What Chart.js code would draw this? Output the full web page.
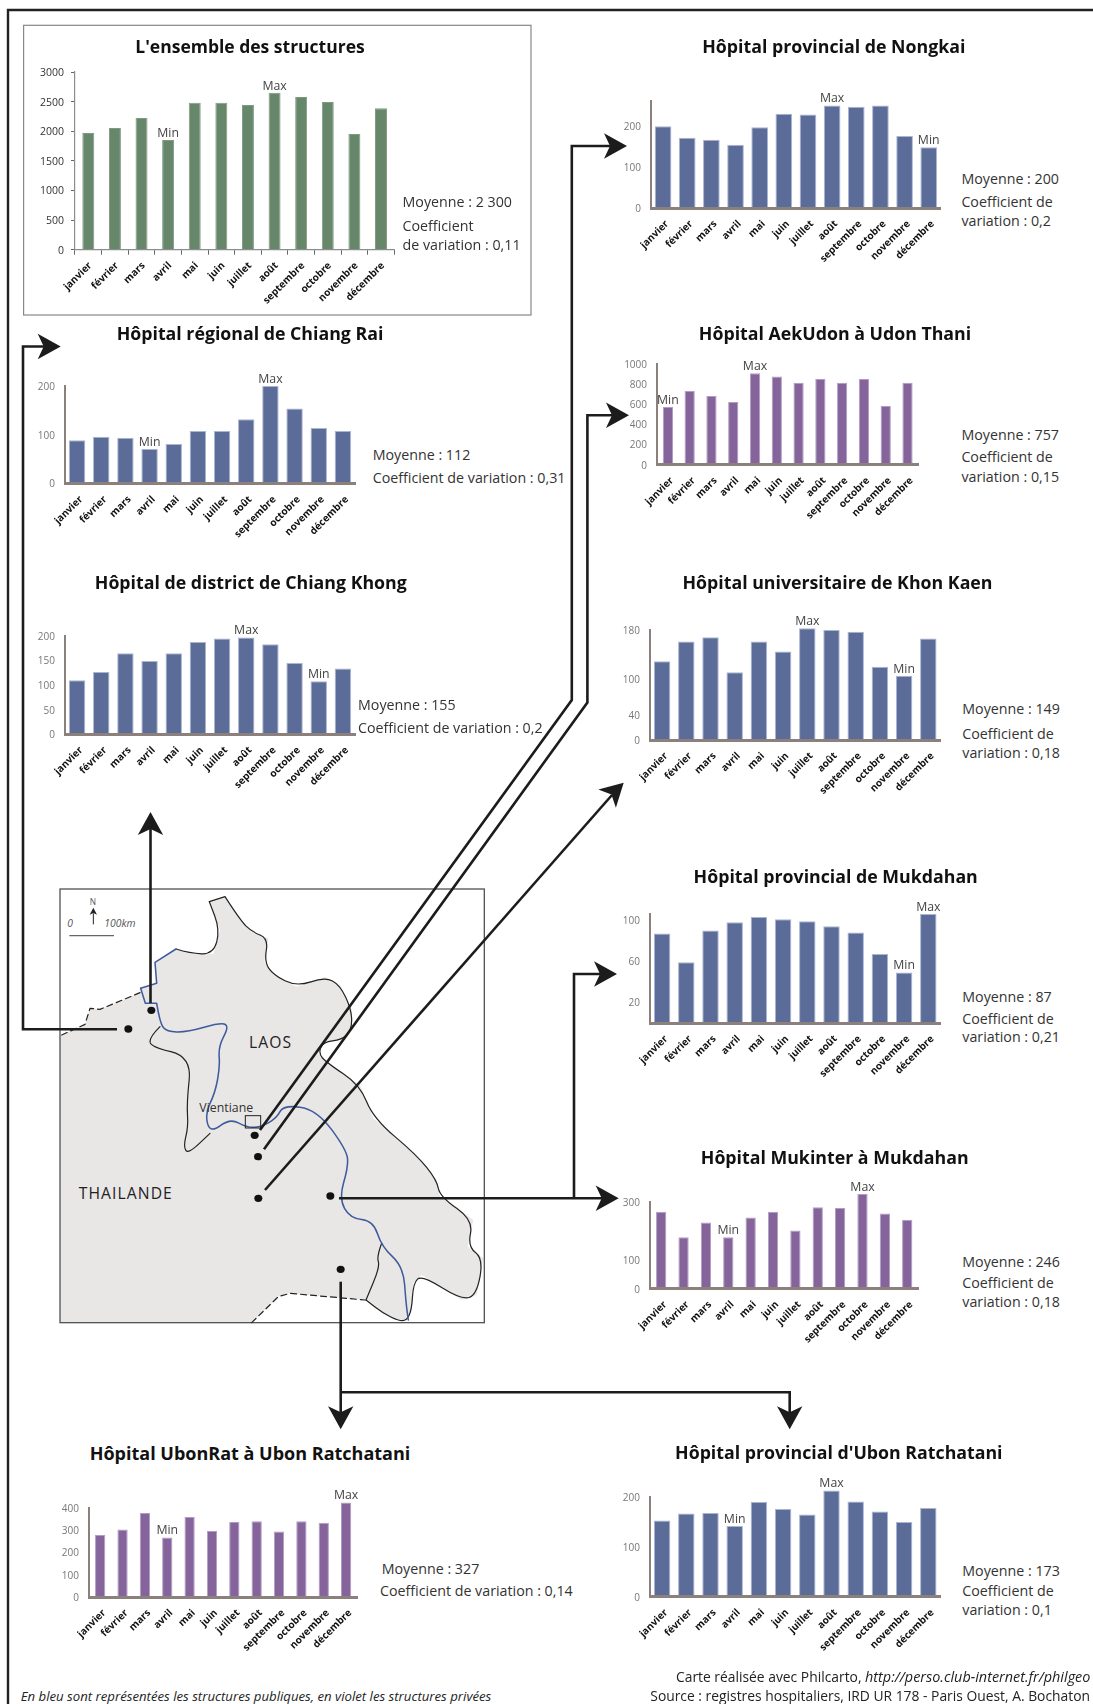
<!DOCTYPE html>
<html lang="fr"><head><meta charset="utf-8">
<title>Hôpitaux</title>
<script src="https://cdn.jsdelivr.net/npm/chart.js@4"></script>
<style>
html,body{margin:0;padding:0;background:#fff;width:1093px;height:1704px;overflow:hidden}
#page{position:relative;width:1093px;height:1704px;overflow:hidden;font-family:"Open Sans",sans-serif;color:#2c2c2c}
#page svg{position:absolute;left:0;top:0}
.cv{position:absolute}
.t{position:absolute;white-space:nowrap;line-height:1}
.title{font-weight:700;font-size:17.75px;color:#111;transform:translate(-50%,-50%)}
.s{font-size:14.25px;transform:translateY(-50%);color:#333}
.f{font-size:13.85px;transform:translateY(-50%);color:#222}
</style></head><body>
<div id="page"><svg id="ov" width="1093" height="1704" xmlns="http://www.w3.org/2000/svg"></svg></div>
<script>
const months=["janvier","février","mars","avril","mai","juin","juillet","août","septembre","octobre","novembre","décembre"];

const ensembleValues=[1970,2055,2223,1852,2482,2482,2443,2651,2578,2493,1953,2386];
const chiangRaiValues=[89,96,94,71,81,108,108,132,200,154,114,108];
const chiangKhongValues=[110,127,165,149,165,188,195,197,183,145,108,134];
const nongkaiValues=[200,172,167,155,198,231,229,251,248,251,176,149];
const aekUdonValues=[573,732,682,622,907,877,815,851,815,851,583,815];
const khonKaenValues=[129,161,168,111,161,145,183,180,177,120,105,166];
const mukdahanValues=[87,59,90,98,103,101,99,94,88,67,49,106];
const mukinterValues=[266,178,229,178,246,266,201,282,279,328,260,239];
const ubonRatValues=[279,303,378,267,360,297,337,340,294,340,334,425];
const ubonProvValues=[153,167,168,142,190,176,165,213,191,171,150,178];

const ensembleTicks=[0,500,1000,1500,2000,2500,3000];
const chiangRaiTicks=[0,100,200];
const chiangKhongTicks=[0,50,100,150,200];
const nongkaiTicks=[0,100,200];
const aekUdonTicks=[0,200,400,600,800,1000];
const khonKaenTicks=[0,40,100,180];
const mukdahanTicks=[20,60,100];
const mukinterTicks=[0,100,300];
const ubonRatTicks=[0,100,200,300,400];
const ubonProvTicks=[0,100,200];

const BLUE="#5b6c98",VIOLET="#85639b",GREEN="#66876a";
const BLUEB="#aab5d2",VIOLETB="#b39cc4",GREENB="#7f9a84";

const panels=[
 {title:"L'ensemble des structures",fs:17.5,tx:250,ty:46.7,values:ensembleValues,ticks:ensembleTicks,yMax:3000,l:74.6,r:393.9,top:72.3,bot:250,c:GREEN,b:GREENB,bp:.45,min:3,max:7,green:true,
  stats:[["Moyenne : 2 300",402.5,201.7],["Coefficient",402.5,226],["de variation : 0,11",402.5,245]]},
 {title:"Hôpital régional de Chiang Rai",tx:250,ty:334,values:chiangRaiValues,ticks:chiangRaiTicks,yMax:200,l:65,r:355,top:385.7,bot:483.3,c:BLUE,b:BLUEB,bp:.68,min:3,max:8,
  stats:[["Moyenne : 112",372.7,455],["Coefficient de variation : 0,31",372.7,478]]},
 {title:"Hôpital de district de Chiang Khong",tx:250.8,ty:583,values:chiangKhongValues,ticks:chiangKhongTicks,yMax:200,l:65,r:355,top:636,bot:734.3,c:BLUE,b:BLUEB,bp:.68,min:10,max:7,
  stats:[["Moyenne : 155",358,705],["Coefficient de variation : 0,2",358,727.7]]},
 {title:"Hôpital provincial de Nongkai",tx:833.8,ty:46.7,values:nongkaiValues,ticks:nongkaiTicks,yMax:262,l:651.2,r:941,top:100.7,bot:207.7,c:BLUE,b:BLUEB,bp:.69,min:11,max:7,
  stats:[["Moyenne : 200",961.4,179],["Coefficient de",961.4,201.7],["variation : 0,2",961.4,220.7]]},
 {title:"Hôpital AekUdon à Udon Thani",tx:835,ty:334,values:aekUdonValues,ticks:aekUdonTicks,yMax:1000,l:656.6,r:918,top:364,bot:464.7,c:VIOLET,b:VIOLETB,bp:.47,min:0,max:4,
  stats:[["Moyenne : 757",961.4,435],["Coefficient de",961.4,457],["variation : 0,15",961.4,476.7]]},
 {title:"Hôpital universitaire de Khon Kaen",tx:837.5,ty:583,values:khonKaenValues,ticks:khonKaenTicks,yMax:180,l:650.3,r:940.7,top:629.7,bot:739.7,c:BLUE,b:BLUEB,bp:.68,min:10,max:6,
  stats:[["Moyenne : 149",962.3,709],["Coefficient de",962.3,734],["variation : 0,18",962.3,752.7]]},
 {title:"Hôpital provincial de Mukdahan",tx:835.7,ty:877,values:mukdahanValues,ticks:mukdahanTicks,yMax:106,l:650.3,r:940.7,top:914.3,bot:1023.3,c:BLUE,b:BLUEB,bp:.68,min:10,max:11,yMin:0,
  stats:[["Moyenne : 87",962.3,997.3],["Coefficient de",962.3,1019],["variation : 0,21",962.3,1036.7]]},
 {title:"Hôpital Mukinter à Mukdahan",tx:834.7,ty:1158,values:mukinterValues,ticks:mukinterTicks,yMax:300,l:650.3,r:918.7,top:1202.3,bot:1289,c:VIOLET,b:VIOLETB,bp:.46,min:3,max:9,
  stats:[["Moyenne : 246",962.3,1261.7],["Coefficient de",962.3,1282.7],["variation : 0,18",962.3,1301.7]]},
 {title:"Hôpital UbonRat à Ubon Ratchatani",fs:18,tx:250,ty:1453,values:ubonRatValues,ticks:ubonRatTicks,yMax:400,l:88.7,r:357,top:1508.3,bot:1597.3,c:VIOLET,b:VIOLETB,bp:.46,min:3,max:11,
  stats:[["Moyenne : 327",381.7,1569],["Coefficient de variation : 0,14",380,1591]]},
 {title:"Hôpital provincial d'Ubon Ratchatani",tx:838.8,ty:1453,values:ubonProvValues,ticks:ubonProvTicks,yMax:200,l:650.3,r:940.7,top:1497.3,bot:1597,c:BLUE,b:BLUEB,bp:.68,min:3,max:7,
  stats:[["Moyenne : 173",962.3,1570.7],["Coefficient de",962.3,1591],["variation : 0,1",962.3,1610]]}
];

const page=document.getElementById('page'),ov=document.getElementById('ov');
const NS="http://www.w3.org/2000/svg";
function el(n,a,txt){const e=document.createElementNS(NS,n);for(const k in a)e.setAttribute(k,a[k]);if(txt)e.textContent=txt;ov.appendChild(e);return e;}
function text(cls,s,x,y){const d=document.createElement('div');d.className='t '+cls;d.textContent=s;d.style.left=x+'px';d.style.top=y+'px';page.appendChild(d);return d;}

/* frame + box */
el('path',{d:"M8 1704V10H1093",fill:"none",stroke:"#222","stroke-width":2.4});
el('rect',{x:23.6,y:25.3,width:507.4,height:289.7,fill:"#fff",stroke:"#888","stroke-width":1.2});

/* map – coordinates in a 3x local space */
const map=document.createElementNS(NS,'g');map.setAttribute('transform','translate(40,870) scale(.33333)');ov.appendChild(map);
function mel(n,a,txt){const e=document.createElementNS(NS,n);for(const k in a)e.setAttribute(k,a[k]);if(txt)e.textContent=txt;map.appendChild(e);return e;}
function smooth(p){let d="M"+p[0][0]+" "+p[0][1];for(let i=1;i<p.length-1;i++){const mx=(p[i][0]+p[i+1][0])/2,my=(p[i][1]+p[i+1][1])/2;d+="Q"+p[i][0]+" "+p[i][1]+" "+mx+" "+my;}const q=p[p.length-1];return d+"L"+q[0]+" "+q[1];}
mel('path',{d:"M60 497L135 463L150 415L180 418L300 368L302 355L350 340L345 277L408 237L450 250L520 253L540 180L508 95L555 80L600 150L635 185L685 205L673 275L700 315L770 350L855 321L900 345L935 420L935 480L905 510L850 515L835 550L860 578L960 645L1000 745L1130 855L1190 930L1200 980L1300 1050L1283 1130L1330 1165L1310 1275L1265 1290L1145 1215L1120 1240L1115 1320L1100 1352L1075 1352L1030 1330L978 1290L750 1270L715 1280L635 1358L60 1358Z",fill:"#e9e6e6",stroke:"none"});
mel('rect',{x:60,y:57,width:1273,height:1301,fill:"none",stroke:"#555","stroke-width":4});
const blk={fill:"none",stroke:"#222","stroke-width":3.6,"stroke-linejoin":"round","stroke-linecap":"round"};
mel('path',{...blk,d:smooth([[408,237],[450,250],[520,253],[540,180],[508,95]])});
mel('path',{...blk,d:"M508 95L555 80"+smooth([[555,80],[600,150],[635,185],[685,205],[673,275],[700,315],[770,350],[855,321],[900,345],[935,420],[935,480],[905,510],[850,515],[835,550],[860,578],[960,645],[1000,745],[1130,855],[1190,930],[1200,980],[1300,1050],[1283,1130],[1330,1165],[1310,1275],[1265,1290],[1145,1215],[1120,1240],[1115,1320],[1100,1352],[1075,1352],[1030,1330],[978,1290]]).replace(/^M/,'L')});
mel('path',{...blk,d:smooth([[360,470],[330,500],[330,530],[455,560],[440,700],[445,770],[430,830],[445,852],[510,790]])});
mel('path',{...blk,d:smooth([[1025,1120],[1010,1160],[1020,1190],[978,1290]])});
mel('path',{...blk,"stroke-dasharray":"18 12",d:"M65 495L135 463L150 415L180 418L300 368"});
mel('path',{...blk,"stroke-dasharray":"18 12",d:"M635 1358L715 1280L750 1270L975 1290"});
const river={fill:"none",stroke:"#3e5c9c","stroke-width":4.6,"stroke-linejoin":"round","stroke-linecap":"round"};
mel('path',{...river,d:"M302 355L350 340L345 277L408 237"});
mel('path',{...river,d:"M302 355L316 400L350 400"+smooth([[350,400],[360,460],[380,485],[440,487],[545,457],[567,470],[535,530],[540,590],[525,670],[495,730],[510,790],[570,745],[620,772],[660,772],[710,745],[730,705],[830,718],[920,840],[925,890],[897,985],[930,1045],[1000,1052],[1025,1130],[1090,1190],[1098,1300],[1105,1350]]).replace(/^M/,'L')});
mel('rect',{x:616,y:737,width:46,height:37,fill:"none",stroke:"#222","stroke-width":3});
[[334,421],[265,477],[644,796],[654,860],[655,985],[871,978],[902,1198]].forEach(p=>mel('ellipse',{cx:p[0],cy:p[1],rx:12,ry:11,fill:"#111"}));
mel('text',{x:478,y:727,"font-size":37,"font-family":"Open Sans",fill:"#333"},"Vientiane");
mel('text',{x:627,y:533,"font-size":47,"letter-spacing":3.3,"font-family":"Open Sans",fill:"#222"},"LAOS");
mel('text',{x:116,y:987,"font-size":47,"letter-spacing":3.3,"font-family":"Open Sans",fill:"#222"},"THAILANDE");
mel('text',{x:82,y:172,"font-size":31,"font-style":"italic","font-family":"Open Sans",fill:"#555"},"0");
mel('text',{x:193,y:172,"font-size":31,"font-style":"italic","font-family":"Open Sans",fill:"#555"},"100km");
mel('text',{x:149,y:106,"font-size":25,"font-family":"Open Sans",fill:"#555"},"N");
mel('path',{d:"M88 197H222",stroke:"#666","stroke-width":4,fill:"none"});
mel('path',{d:"M160 163V130",stroke:"#222","stroke-width":3,fill:"none"});
mel('path',{d:"M160 113L171 134L160 129L149 134Z",fill:"#222"});

/* connecting arrows */
const LW=2.6,INK="#1c1c1c";
function line(d,w){el('path',{d,fill:"none",stroke:INK,"stroke-width":w||LW,"stroke-linejoin":"miter"});}
function head(tx,ty,dx,dy){const n=Math.hypot(dx,dy);dx/=n;dy/=n;const L=23,H=12.7,N=6;const bx=tx-dx*L,by=ty-dy*L;
 const a=[bx-dy*H,by+dx*H],b=[bx+dy*H,by-dx*H],c=[bx+dx*N,by+dy*N];
 el('polygon',{points:[[tx,ty],a,c,b].map(p=>p.join(',')).join(' '),fill:INK});}
line("M117 1029.3H23V346.5H48");head(60.7,346.5,1,0);
line("M150.5 1003V825");head(150.5,812,0,-1);
line("M260 1130L571.8 700V146H612");head(627,146,1,0);
line("M264 1149.3L587.4 702.5V415.3H615");head(629,415.3,1,0);
line("M265 1190L612 795");head(623.7,782.7,.72,-.69);
line("M339 1198.3H608");head(618.7,1198.3,1,0);
line("M574 1198.3V974H605");head(617,974,1,0);
line("M340.7 1281.7V1418");head(340.7,1429.3,0,1);
line("M340.7 1392.3H789.7V1418");head(789.7,1429.3,0,1);

/* Min / Max labels */
const minMaxPlugin={id:'minMax',afterDatasetsDraw(ch,args,opts){
  const ctx=ch.ctx,bars=ch.getDatasetMeta(0).data;ctx.save();
  ctx.font='12.3px "Open Sans"';ctx.fillStyle='#444';ctx.textAlign='center';ctx.textBaseline='bottom';
  [[opts.min,'Min'],[opts.max,'Max']].forEach(([i,s])=>ctx.fillText(s,bars[i].x,bars[i].y-0.5));
  ctx.restore();}};

const PADL=45,PADT=42,PADR=15,PADB=78;
panels.forEach((p,i)=>{
  const w=Math.round(p.r-p.l+PADL+PADR),h=Math.round(p.bot-p.top+PADT+PADB);
  const c=document.createElement('canvas');c.className='cv';c.width=w;c.height=h;
  c.style.cssText=`left:${p.l-PADL}px;top:${p.top-PADT}px;width:${w}px;height:${h}px`;
  page.appendChild(c);
  const axisCol=p.green?"#8d8d8d":"#8b807c";
  new Chart(c,{type:'bar',plugins:[minMaxPlugin],
    data:{labels:months,datasets:[{data:p.values,backgroundColor:p.c,borderColor:p.b,borderWidth:{top:1,left:1,right:1,bottom:0},borderSkipped:false,categoryPercentage:1,barPercentage:p.bp,clip:false}]},
    options:{responsive:false,maintainAspectRatio:false,animation:false,events:[],
      layout:{padding:{top:PADT,right:w-PADL-(p.r-p.l),left:0,bottom:0}},
      plugins:{legend:{display:false},tooltip:{enabled:false},title:{display:false},minMax:{min:p.min,max:p.max}},
      scales:{
        x:{offset:true,afterFit(s){s.height=h-PADT-(p.bot-p.top);},
           grid:{display:!!p.green,drawOnChartArea:false,drawTicks:!!p.green,tickLength:5,color:"#666",tickWidth:1},
           border:{color:axisCol,width:p.green?1.2:3,z:1},
           ticks:{autoSkip:false,minRotation:45,maxRotation:45,padding:p.green?5:10,labelOffset:p.green?2:4,color:"#111",font:{family:"Open Sans",weight:"bold",size:10}}},
        y:{min:p.yMin||0,max:p.yMax,afterFit(s){s.width=PADL;},
           afterBuildTicks(s){s.ticks=p.ticks.map(v=>({value:v}));},
           grid:{display:!!p.green,drawOnChartArea:false,drawTicks:!!p.green,tickLength:4,color:"#666"},
           border:{color:axisCol,width:p.green?1.2:2,z:1},
           ticks:{padding:p.green?7:10,labelOffset:1,color:p.green?"#333":"#777",font:{family:"Open Sans",size:p.green?10.5:10},callback:v=>String(v)}}
      }}});
  const tt=text('title',p.title,p.tx,p.ty);if(p.fs)tt.style.fontSize=p.fs+'px';
  p.stats.forEach(s=>text('s',s[0],s[1],s[2]));
});

/* foot notes */
const a=text('f',"En bleu sont représentées les structures publiques, en violet les structures privées",20.7,1696.7);a.style.fontStyle='italic';a.style.fontSize='13.2px';
const b=text('f',"",676,1676.7);b.innerHTML='Carte réalisée avec Philcarto, <i style="font-size:14.4px">http://perso.club-internet.fr/philgeo</i>';
text('f',"Source :  registres hospitaliers, IRD UR 178 - Paris Ouest, A. Bochaton",650.3,1696);
</script></body></html>
